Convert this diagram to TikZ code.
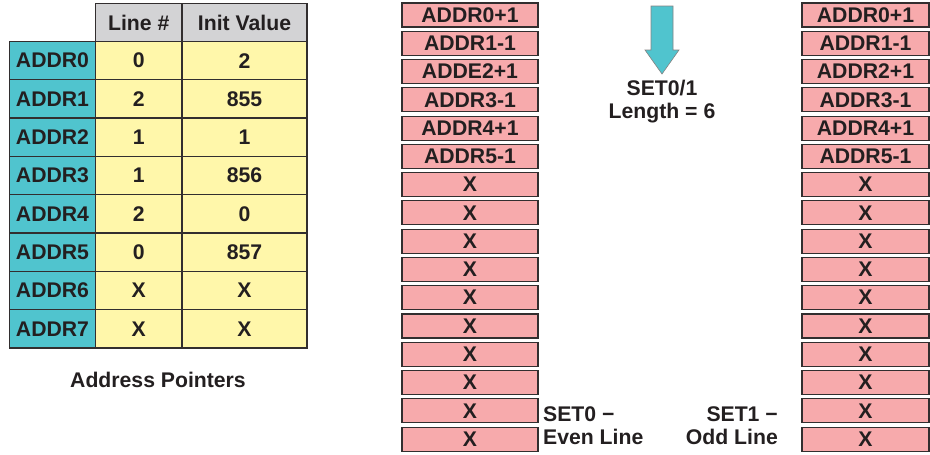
\documentclass[tikz,border=0pt]{standalone}
\usepackage{fontspec}
\setmainfont{Liberation Sans}
\definecolor{tealc}{RGB}{80,196,206}
\definecolor{yelc}{RGB}{255,247,170}
\definecolor{grayc}{RGB}{211,211,213}
\definecolor{pinkc}{RGB}{247,170,172}
\definecolor{edgec}{RGB}{50,46,47}
\definecolor{txtc}{RGB}{35,31,32}
\begin{document}
\begin{tikzpicture}[x=1pt,y=-1pt,
  every node/.style={font=\fontsize{21.2}{24}\selectfont\bfseries, text=txtc, inner sep=0pt},
  cell/.style={draw=edgec, line width=1.3pt, minimum height=38.3pt},
  tealcell/.style={cell, fill=tealc, minimum width=86pt},
  linecell/.style={cell, fill=yelc, minimum width=86.5pt},
  initcell/.style={cell, fill=yelc, minimum width=125pt},
  pinkL/.style={draw=edgec, line width=1.1pt, fill=pinkc, minimum width=136pt, minimum height=24pt},
  pinkR/.style={draw=edgec, line width=1.1pt, fill=pinkc, minimum width=127pt, minimum height=24pt},
  lbl/.style={align=center}
]
\useasboundingbox (0,0) rectangle (930,455);
% header
\node[cell, fill=grayc, minimum width=86.5pt, minimum height=38pt] (hline) at (138.75,22.5) {Line \#};
\node[cell, fill=grayc, minimum width=125pt, minimum height=38pt] (hinit) at (244.5,22.5) {Init Value};
% rows
\foreach \i/\ln/\iv in {0/0/2,1/2/855,2/1/1,3/1/856,4/2/0,5/0/857,6/X/X,7/X/X}{
  \node[tealcell] (a\i) at (52.5,{60.65+38.3*\i}) {ADDR\i};
  \node[linecell] (l\i) at (138.75,{60.65+38.3*\i}) {\ln};
  \node[initcell] (v\i) at (244.5,{60.65+38.3*\i}) {\iv};
}
\node (ap) at (158,380) {Address Pointers};
% SET0 column
\foreach \i/\t in {0/ADDR0+1,1/ADDR1-1,2/ADDE2+1,3/ADDR3-1,4/ADDR4+1,5/ADDR5-1}{
  \node[pinkL] (s0\i) at (470,{15+28.27*\i}) {\t};
}
\foreach \i in {6,...,15}{
  \node[pinkL] (s0\i) at (470,{15+28.27*\i}) {X};
}
% SET1 column
\foreach \i/\t in {0/ADDR0+1,1/ADDR1-1,2/ADDR2+1,3/ADDR3-1,4/ADDR4+1,5/ADDR5-1}{
  \node[pinkR] (s1\i) at (865.5,{15+28.27*\i}) {\t};
}
\foreach \i in {6,...,15}{
  \node[pinkR] (s1\i) at (865.5,{15+28.27*\i}) {X};
}
% arrow
\draw[draw=edgec!60, line width=0.6pt, fill=tealc]
  (651,6) -- (673,6) -- (673,50) -- (679,50) -- (662,74) -- (645,50) -- (651,50) -- cycle;
\node[lbl] (len) at (662,102) {SET0/1\\[-1pt]Length = 6};
\node[anchor=west, align=left] (set0) at (543,426) {SET0 −\\[-1pt]Even Line};
\node[anchor=east, align=right] (set1) at (778,426) {SET1 −\\[-1pt]Odd Line};
\end{tikzpicture}
\end{document}
